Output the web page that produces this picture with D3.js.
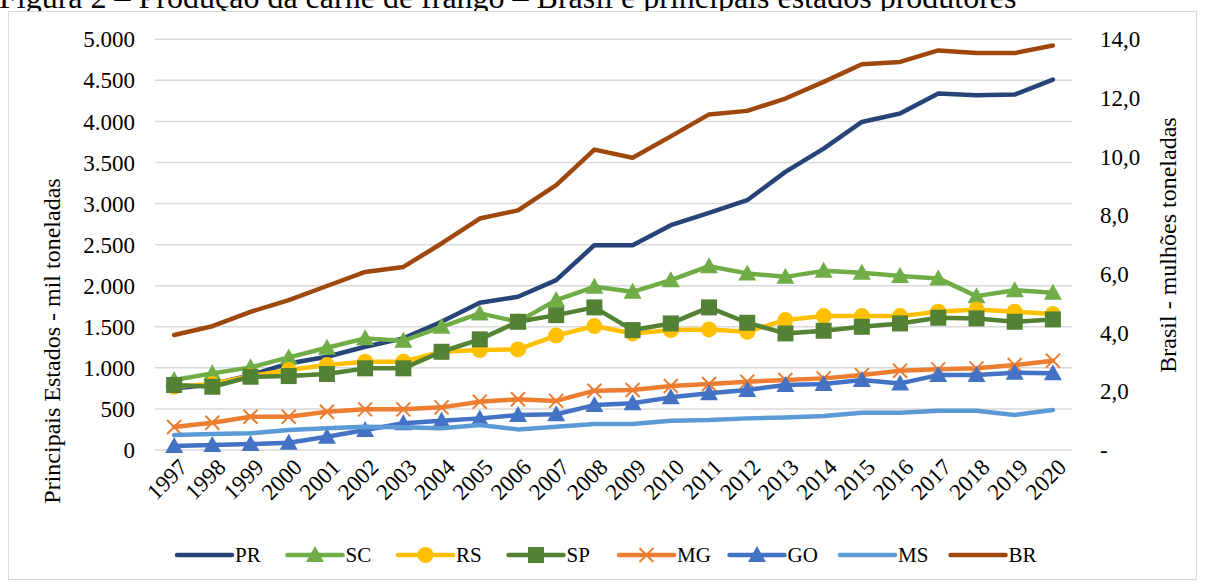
<!DOCTYPE html>
<html>
<head>
<meta charset="utf-8">
<script src="https://cdn.jsdelivr.net/npm/d3@7"></script>
<style>
  body { margin: 0; background: #fff; }
  svg { display: block; }
  svg text { font-family: "Liberation Serif", "Times New Roman", serif; }
</style>
</head>
<body>
<svg id="chart" width="1206" height="585"></svg>
<script>
// anos e series (mil toneladas, BR em milhoes)
var years = ["1997","1998","1999","2000","2001","2002","2003","2004","2005","2006","2007","2008",
             "2009","2010","2011","2012","2013","2014","2015","2016","2017","2018","2019","2020"];

var PR = [750, 800, 912, 1054, 1135, 1257, 1359, 1561, 1792, 1865, 2068, 2494, 2494, 2737, 2887, 3041, 3386, 3670, 3994, 4096, 4339, 4319, 4327, 4510];
var SC = [852, 933, 1006, 1127, 1245, 1359, 1330, 1500, 1663, 1561, 1825, 1987, 1926, 2068, 2238, 2150, 2108, 2181, 2157, 2117, 2089, 1873, 1946, 1915];
var RS = [770, 803, 900, 973, 1034, 1074, 1074, 1196, 1217, 1225, 1393, 1509, 1419, 1460, 1468, 1440, 1582, 1630, 1630, 1630, 1683, 1711, 1683, 1655];
var SP = [791, 770, 892, 900, 925, 994, 994, 1196, 1347, 1561, 1642, 1736, 1460, 1541, 1736, 1549, 1419, 1452, 1500, 1541, 1610, 1602, 1561, 1590];
var MG = [280, 332, 405, 405, 466, 495, 495, 519, 588, 617, 598, 722, 730, 779, 803, 831, 852, 872, 912, 965, 982, 994, 1034, 1086];
var GO = [50, 61, 73, 89, 162, 243, 325, 357, 385, 426, 436, 547, 568, 641, 690, 730, 791, 803, 852, 811, 912, 912, 940, 935];
var MS = [182, 195, 203, 243, 264, 284, 276, 264, 304, 251, 284, 316, 316, 357, 365, 385, 397, 414, 454, 454, 478, 478, 426, 487];
var BR = [3.92, 4.22, 4.71, 5.11, 5.59, 6.07, 6.24, 7.04, 7.89, 8.17, 9.03, 10.24, 9.96, 10.69, 11.44, 11.56, 11.98, 12.55, 13.15, 13.23, 13.62, 13.53, 13.53, 13.79];

var leftTicks = [0, 500, 1000, 1500, 2000, 2500, 3000, 3500, 4000, 4500, 5000];
var rightTicks = [0, 2, 4, 6, 8, 10, 12, 14];

var series = [
  {name: "PR", values: PR, color: "#264478", marker: "none",     axis: "left"},
  {name: "SC", values: SC, color: "#70AD47", marker: "triangle", axis: "left"},
  {name: "RS", values: RS, color: "#FFC000", marker: "circle",   axis: "left"},
  {name: "SP", values: SP, color: "#548235", marker: "square",   axis: "left"},
  {name: "MG", values: MG, color: "#ED7D31", marker: "x",        axis: "left"},
  {name: "GO", values: GO, color: "#4472C4", marker: "triangle", axis: "left"},
  {name: "MS", values: MS, color: "#5B9BD5", marker: "none",     axis: "left"},
  {name: "BR", values: BR, color: "#9E480E", marker: "none",     axis: "right"}
];

var svg = d3.select("#chart");
var pt = d3.formatLocale({decimal: ",", thousands: ".", grouping: [3], currency: ["R$", ""]});

var plot = {left: 155, right: 1072, top: 39.3, bottom: 450};

var x = d3.scalePoint().domain(years).range([plot.left, plot.right]).padding(0.5);
var yL = d3.scaleLinear().domain([0, 5000]).range([plot.bottom, plot.top]);
var yR = d3.scaleLinear().domain([0, 14]).range([plot.bottom, plot.top]);

// titulo (cortado no topo como na figura)
svg.append("text")
  .attr("x", -1).attr("y", 8)
  .attr("font-size", 32)
  .attr("fill", "#000")
  .text("Figura 2 \u2013 Produção da carne de frango \u2013 Brasil e principais estados produtores");

// moldura do grafico
svg.append("rect")
  .attr("x", 8.5).attr("y", 11.5)
  .attr("width", 1188).attr("height", 568)
  .attr("fill", "#fff")
  .attr("stroke", "#d9d9d9")
  .attr("stroke-width", 1);

// grade
svg.append("g").selectAll("line")
  .data(leftTicks)
  .join("line")
  .attr("x1", plot.left).attr("x2", plot.right)
  .attr("y1", function(d) { return yL(d); })
  .attr("y2", function(d) { return yL(d); })
  .attr("stroke", "#d9d9d9")
  .attr("stroke-width", 1.5);

// eixo esquerdo
var axL = svg.append("g")
  .attr("transform", "translate(" + (plot.left - 20) + ",0)")
  .call(d3.axisLeft(yL).tickValues(leftTicks).tickFormat(pt.format(",d")).tickSize(0).tickPadding(0));
axL.attr("font-family", null).attr("font-size", null);
axL.select(".domain").remove();
axL.selectAll("text").attr("font-size", 23).attr("fill", "#000").attr("dy", "0.33em");

// eixo direito
var axR = svg.append("g")
  .attr("transform", "translate(" + (plot.right + 28) + ",0)")
  .call(d3.axisRight(yR).tickValues(rightTicks)
    .tickFormat(function(d) { return d === 0 ? "-" : pt.format(",.1f")(d); })
    .tickSize(0).tickPadding(0));
axR.attr("font-family", null).attr("font-size", null);
axR.select(".domain").remove();
axR.selectAll("text").attr("font-size", 23).attr("fill", "#000").attr("dy", "0.33em");

// eixo x com rotulos inclinados
svg.append("g").selectAll("text")
  .data(years)
  .join("text")
  .attr("transform", function(d) { return "translate(" + (x(d) + 9) + ",463) rotate(-45)"; })
  .attr("text-anchor", "end")
  .attr("font-size", 23)
  .attr("dy", "0.35em")
  .text(function(d) { return d; });

// titulos dos eixos
svg.append("text")
  .attr("transform", "translate(60,341) rotate(-90)")
  .attr("text-anchor", "middle")
  .attr("font-size", 24)
  .text("Principais Estados - mil toneladas");

svg.append("text")
  .attr("transform", "translate(1176,245) rotate(-90)")
  .attr("text-anchor", "middle")
  .attr("font-size", 24)
  .text("Brasil - mulhões toneladas");

function drawMarker(g, type, color, cx, cy) {
  if (type == "circle") {
    g.append("circle").attr("cx", cx).attr("cy", cy).attr("r", 8).attr("fill", color);
  } else if (type == "square") {
    g.append("rect").attr("x", cx - 8).attr("y", cy - 8).attr("width", 16).attr("height", 16).attr("fill", color);
  } else if (type == "triangle") {
    g.append("path")
      .attr("d", "M" + cx + "," + (cy - 9) + "L" + (cx + 9) + "," + (cy + 7) + "L" + (cx - 9) + "," + (cy + 7) + "Z")
      .attr("fill", color);
  } else if (type == "x") {
    g.append("path")
      .attr("d", "M" + (cx - 7) + "," + (cy - 7) + "L" + (cx + 7) + "," + (cy + 7) + "M" + (cx + 7) + "," + (cy - 7) + "L" + (cx - 7) + "," + (cy + 7))
      .attr("stroke", color).attr("stroke-width", 2).attr("fill", "none");
  }
}

// series
series.forEach(function(s) {
  var yScale = s.axis == "right" ? yR : yL;
  var line = d3.line()
    .x(function(d, i) { return x(years[i]); })
    .y(function(d) { return yScale(d); });
  var g = svg.append("g").attr("class", "serie-" + s.name);
  g.append("path")
    .datum(s.values)
    .attr("d", line)
    .attr("fill", "none")
    .attr("stroke", s.color)
    .attr("stroke-width", 4.5)
    .attr("stroke-linejoin", "round")
    .attr("stroke-linecap", "round");
  if (s.marker != "none") {
    s.values.forEach(function(v, i) {
      drawMarker(g, s.marker, s.color, x(years[i]), yScale(v));
    });
  }
});

// legenda
var legend = svg.append("g").attr("transform", "translate(177,555)");
series.forEach(function(s, i) {
  var lg = legend.append("g").attr("transform", "translate(" + (i * 110.5) + ",0)");
  lg.append("line")
    .attr("x1", 0).attr("x2", 55).attr("y1", 0).attr("y2", 0)
    .attr("stroke", s.color).attr("stroke-width", 4.5).attr("stroke-linecap", "round");
  drawMarker(lg, s.marker, s.color, 27.5, 0);
  lg.append("text")
    .attr("x", 58).attr("y", 0).attr("dy", "0.35em")
    .attr("font-size", 21)
    .text(s.name);
});
</script>
</body>
</html>
